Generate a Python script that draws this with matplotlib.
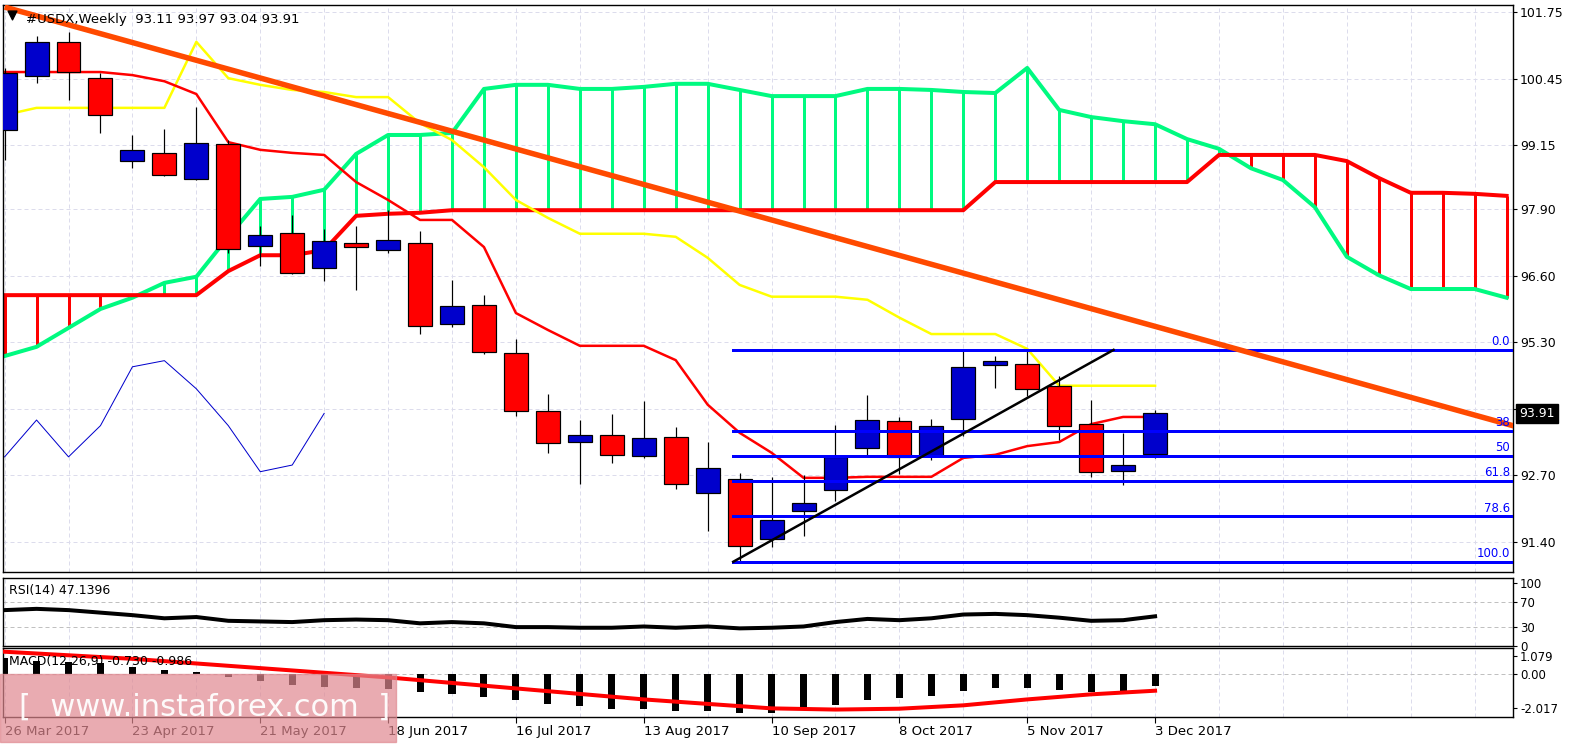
import numpy as np
import matplotlib
matplotlib.use('Agg')
import matplotlib.pyplot as plt
from matplotlib.transforms import blended_transform_factory

# weekly candles, index 0 = 26 Mar 2017
opens  = [99.45, 100.50, 101.17, 100.46, 98.84, 99.00, 98.49, 99.17, 97.18, 97.44,
          96.75, 97.24, 97.10, 97.24, 95.66, 96.03, 95.09, 93.96, 93.35, 93.49,
          93.08, 93.45, 92.36, 92.63, 91.46, 92.01, 92.42, 93.24, 93.76, 93.08,
          93.80, 94.86, 94.88, 94.45, 93.70, 92.79, 93.11]
highs  = [100.66, 101.28, 101.36, 100.56, 99.35, 99.47, 99.90, 99.25, 97.57, 97.79,
          97.51, 97.57, 97.88, 97.47, 96.52, 96.22, 95.36, 94.29, 93.78, 93.90,
          94.15, 93.65, 93.35, 92.75, 92.67, 92.71, 93.69, 94.27, 93.84, 93.80,
          95.17, 95.03, 95.15, 94.64, 94.17, 93.53, 93.97]
lows   = [98.86, 100.36, 100.03, 99.39, 98.70, 98.55, 98.47, 97.04, 96.79, 96.63,
          96.50, 96.32, 97.04, 95.46, 95.60, 95.07, 93.86, 93.14, 92.53, 92.94,
          93.04, 92.44, 91.61, 91.01, 91.30, 91.52, 92.20, 93.06, 92.73, 93.00,
          93.47, 94.41, 94.25, 93.39, 92.67, 92.51, 93.04]
closes = [100.56, 101.17, 100.58, 99.74, 99.06, 98.57, 99.19, 97.12, 97.40, 96.65,
          97.28, 97.16, 97.30, 95.62, 96.01, 95.11, 93.96, 93.33, 93.49, 93.10,
          93.43, 92.53, 92.85, 91.32, 91.83, 92.16, 93.06, 93.78, 93.06, 93.67,
          94.82, 94.94, 94.39, 93.67, 92.77, 92.90, 93.91]

tenkan = [100.58, 100.58, 100.58, 100.58, 100.52, 100.40, 100.15, 99.21, 99.06, 99.00,
          98.96, 98.43, 98.08, 97.69, 97.69, 97.16, 95.87, 95.54, 95.23, 95.23,
          95.23, 94.95, 94.08, 93.53, 93.14, 92.65, 92.65, 92.67, 92.67, 92.67,
          93.04, 93.10, 93.27, 93.35, 93.70, 93.84, 93.84]
kijun = [99.74, 99.88, 99.88, 99.88, 99.88, 99.88, 101.17, 100.46, 100.33, 100.23,
         100.19, 100.09, 100.09, 99.58, 99.25, 98.72, 98.08, 97.73, 97.42, 97.42,
         97.42, 97.36, 96.95, 96.42, 96.19, 96.19, 96.19, 96.13, 95.78, 95.46,
         95.46, 95.46, 95.17, 94.45, 94.45, 94.45, 94.45]
span_a = [95.03, 95.21, 95.58, 95.95, 96.17, 96.46, 96.58, 97.36, 98.10, 98.14,
          98.28, 98.98, 99.35, 99.35, 99.39, 100.25, 100.33, 100.33, 100.25, 100.25,
          100.29, 100.35, 100.35, 100.23, 100.11, 100.11, 100.11, 100.25, 100.25, 100.23,
          100.19, 100.17, 100.66, 99.84, 99.70, 99.62, 99.56, 99.27, 99.08, 98.70,
          98.47, 97.94, 96.97, 96.61, 96.34, 96.34, 96.34, 96.17]
span_b = [96.22, 96.22, 96.22, 96.22, 96.22, 96.22, 96.22, 96.69, 97.00, 97.00,
          97.10, 97.77, 97.81, 97.83, 97.88, 97.88, 97.88, 97.88, 97.88, 97.88,
          97.88, 97.88, 97.88, 97.88, 97.88, 97.88, 97.88, 97.88, 97.88, 97.88,
          97.88, 98.43, 98.43, 98.43, 98.43, 98.43, 98.43, 98.43, 98.96, 98.96,
          98.96, 98.96, 98.84, 98.51, 98.22, 98.22, 98.20, 98.16]

rsi = [57, 59, 57, 53, 49, 44, 46, 40, 39, 38, 41, 42, 41, 36, 38, 36, 30, 30, 29, 29,
       31, 29, 31, 28, 29, 31, 38, 43, 41, 44, 50, 51, 49, 45, 40, 41, 47.14]
macd = [0.93, 0.80, 0.73, 0.67, 0.39, 0.24, 0.10, -0.20, -0.39, -0.65, -0.75, -0.81,
        -0.89, -1.05, -1.18, -1.34, -1.54, -1.78, -1.89, -2.07, -2.07, -2.19, -2.19,
        -2.33, -2.30, -2.10, -1.85, -1.55, -1.40, -1.30, -1.00, -0.80, -0.80, -0.95,
        -1.05, -1.04, -0.73]
signal_x = [0, 4, 8, 12, 16, 20, 24, 26, 28, 30, 32, 34, 36]
signal = [1.32, 0.90, 0.35, -0.20, -0.85, -1.50, -2.03, -2.10, -2.05, -1.85, -1.50, -1.20, -0.986]

date_labels = ['26 Mar 2017', '23 Apr 2017', '21 May 2017', '18 Jun 2017', '16 Jul 2017',
               '13 Aug 2017', '10 Sep 2017', '8 Oct 2017', '5 Nov 2017', '3 Dec 2017']
price_ticks = [101.75, 100.45, 99.15, 97.90, 96.60, 95.30, 94.00, 92.70, 91.40]

fib_high, fib_low = 95.15, 91.01
fib_levels = [0.0, 38.2, 50.0, 61.8, 78.6, 100.0]
fib_names = ['0.0', '38', '50', '61.8', '78.6', '100.0']
trend_x, trend_y = [0, 47.25], [101.85, 93.66]
support_x, support_y = [22.8, 34.7], [91.01, 95.15]

BLUE, RED, GREEN = '#0000cc', '#ff0000', '#00fa80'
GRID = '#dcdcec'
px = 0.72  # one pixel in points at dpi 100

plt.rcParams['font.family'] = ['DejaVu Sans']
fig = plt.figure(figsize=(15.83, 7.44), dpi=100)
L, W = 3 / 1583, 1510 / 1583
ax = fig.add_axes([L, 1 - 572 / 744, W, 567 / 744])
ax_rsi = fig.add_axes([L, 1 - 646 / 744, W, 68 / 744])
ax_m = fig.add_axes([L, 1 - 717 / 744, W, 69 / 744])
XMIN, XMAX = -0.05, 47.2
grid_x = np.arange(0, 48, 2)

for a in (ax, ax_rsi, ax_m):
    a.set_xlim(XMIN, XMAX)
    for gx in grid_x:
        a.axvline(gx, color=GRID, lw=px, ls=(0, (4, 3)), zorder=0)
    a.yaxis.tick_right()
    a.tick_params(axis='y', labelsize=9, length=3, pad=2)
    a.tick_params(axis='x', length=0, labelbottom=False)
    for s in a.spines.values():
        s.set_linewidth(1.4 * px)

# ---- main panel
ax.set_ylim(90.81, 101.89)
ax.set_yticks(price_ticks)
ax.set_yticklabels(['%.2f' % t for t in price_ticks])
for t in price_ticks:
    ax.axhline(t, color=GRID, lw=px, ls=(0, (4, 3)), zorder=0)

xa = np.arange(len(span_a))
ax.vlines(xa, span_a, span_b, colors=[GREEN if a >= b else RED for a, b in zip(span_a, span_b)],
          lw=3 * px, zorder=1)
ax.plot(xa, span_a, color=GREEN, lw=4 * px, zorder=2)
ax.plot(xa, span_b, color=RED, lw=4 * px, zorder=2)

xs = np.arange(len(closes))
ax.plot(xs[:len(closes) - 26], closes[26:], color=BLUE, lw=1 * px, zorder=2)
ax.plot(xs, kijun, color='#ffff00', lw=2.5 * px, zorder=2)
ax.plot(xs, tenkan, color=RED, lw=2.5 * px, zorder=2)

for i in xs:
    o, h, l, c = opens[i], highs[i], lows[i], closes[i]
    ax.vlines(i, l, h, color='black', lw=1.2 * px, zorder=3)
    col = BLUE if c >= o else RED
    ax.bar(i, abs(c - o), bottom=min(o, c), width=0.75, color=col,
           edgecolor='black', linewidth=1.2 * px, zorder=4)

rng = fib_high - fib_low
for lv, nm in zip(fib_levels, fib_names):
    y = fib_high - rng * lv / 100
    ax.plot([22.8, XMAX], [y, y], color='#0000ff', lw=3 * px, zorder=5)
    ax.text(47.1, y + 0.03, nm, color='#0000ff', fontsize=8.5, ha='right', va='bottom', zorder=6)

ax.plot(support_x, support_y, color='black', lw=2.5 * px, zorder=5)
ax.plot(trend_x, trend_y, color='#ff4a00', lw=5.5 * px, zorder=5, solid_capstyle='butt')

ax.text(0.015, 0.975, '#USDX,Weekly  93.11 93.97 93.04 93.91', transform=ax.transAxes,
        fontsize=9.5, va='center', ha='left', zorder=8)
ax.scatter([0.006], [0.982], transform=ax.transAxes, marker='v', s=40, color='black', zorder=8,
           clip_on=False)
tr = blended_transform_factory(ax.transAxes, ax.transData)
ax.text(1.004, closes[-1], '%.2f' % closes[-1], transform=tr, color='white', fontsize=9,
        va='center', ha='left', bbox=dict(boxstyle='square,pad=0.25', fc='black', ec='black'),
        zorder=8, clip_on=False)

# ---- RSI
ax_rsi.set_ylim(0, 108)
ax_rsi.set_yticks([100, 70, 30, 0])
ax_rsi.tick_params(axis='y', labelsize=8.5)
for lv in (70, 30):
    ax_rsi.axhline(lv, color='#c0c0c0', lw=px, ls=(0, (4, 3)), zorder=0)
ax_rsi.plot(xs, rsi, color='black', lw=4 * px)
ax_rsi.text(0.004, 0.82, 'RSI(14) 47.1396', transform=ax_rsi.transAxes, fontsize=9, va='center')

# ---- MACD
ax_m.set_ylim(-2.54, 1.54)
ax_m.set_yticks([1.079, 0.0, -2.017])
ax_m.set_yticklabels(['1.079', '0.00', '-2.017'])
ax_m.tick_params(axis='y', labelsize=8.5)
ax_m.axhline(0, color='#c0c0c0', lw=px, ls=(0, (4, 3)), zorder=0)
ax_m.bar(xs, macd, width=0.22, color='black', zorder=2)
ax_m.plot(signal_x, signal, color=RED, lw=4 * px, zorder=3)
ax_m.text(0.004, 0.8, 'MACD(12,26,9) -0.730 -0.986', transform=ax_m.transAxes, fontsize=9,
          va='center', zorder=4)
ax_m.set_xticks(np.arange(0, 37, 4))
ax_m.set_xticklabels(date_labels, ha='left')
ax_m.tick_params(axis='x', length=4, labelbottom=True, labelsize=9.5, pad=2, direction='out')

# watermark
fig.patches.append(plt.Rectangle((0, 1 - 742 / 744), 396 / 1583, 68 / 744, transform=fig.transFigure,
                                 color='#e08890', alpha=0.7, zorder=10))
fig.text(0.012, 1 - 707 / 744, '[  www.instaforex.com  ]', color='white', fontsize=22,
         va='center', ha='left', zorder=11, alpha=0.95)

fig.savefig('out.png', dpi=100)
